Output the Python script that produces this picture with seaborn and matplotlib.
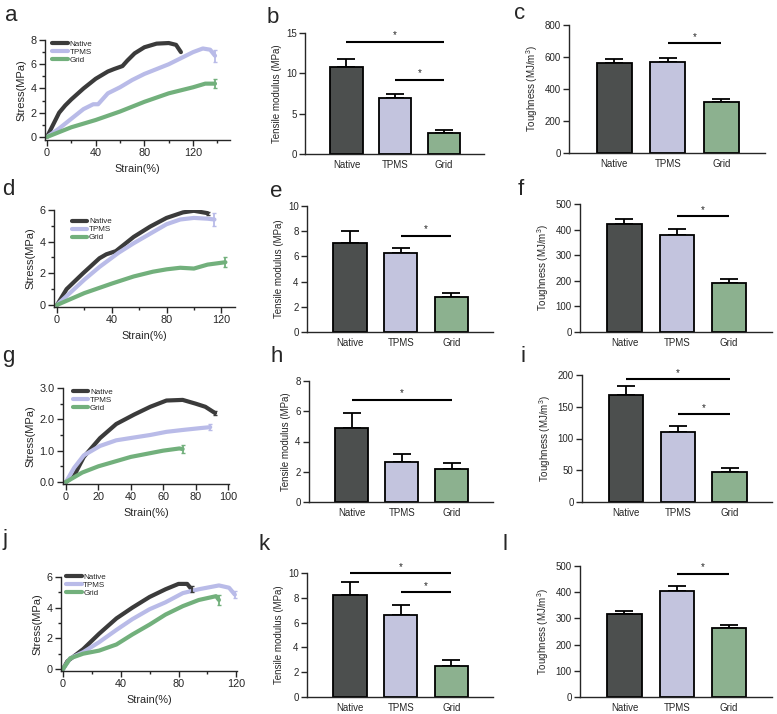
import numpy as np
import pandas as pd
import matplotlib
matplotlib.use("Agg")
import matplotlib.pyplot as plt
from matplotlib.ticker import MultipleLocator, FormatStrFormatter
import seaborn as sns

groups = ["Native", "TPMS", "Grid"]

# stress-strain curves (strain %, stress MPa)
a_native = ([0, 5, 10, 15, 20, 30, 40, 50, 55, 62, 66, 72, 80, 90, 100, 106, 110],
            [0, 1.0, 2.0, 2.6, 3.1, 4.0, 4.8, 5.4, 5.6, 5.85, 6.3, 6.9, 7.4, 7.7, 7.75, 7.6, 7.0])
a_tpms = ([0, 10, 20, 30, 38, 42, 50, 60, 70, 80, 90, 100, 110, 120, 128, 134, 138],
          [0, 0.7, 1.5, 2.3, 2.7, 2.7, 3.6, 4.1, 4.7, 5.2, 5.6, 6.0, 6.5, 7.0, 7.3, 7.2, 6.7])
a_grid = ([0, 20, 40, 60, 80, 100, 120, 130, 138],
          [0, 0.8, 1.4, 2.1, 2.9, 3.6, 4.1, 4.4, 4.4])
a_end_err = [0.0, 0.5, 0.35]

d_native = ([0, 7, 19, 31, 36, 43, 56, 68, 80, 92, 100, 110],
            [0, 1.0, 2.0, 2.95, 3.2, 3.4, 4.3, 4.95, 5.5, 5.85, 5.95, 5.8])
d_tpms = ([0, 10, 20, 31, 45, 56, 70, 80, 90, 100, 110, 115],
          [0, 0.8, 1.6, 2.4, 3.3, 3.9, 4.6, 5.1, 5.4, 5.5, 5.45, 5.4])
d_grid = ([0, 20, 40, 56, 70, 80, 90, 100, 110, 123],
          [0, 0.75, 1.35, 1.8, 2.1, 2.25, 2.35, 2.3, 2.55, 2.7])
d_end_err = [0.1, 0.4, 0.3]

g_native = ([0, 5, 11, 21, 31, 42, 52, 62, 72, 80, 86, 92],
            [0, 0.2, 0.8, 1.4, 1.85, 2.15, 2.4, 2.6, 2.62, 2.5, 2.4, 2.2])
g_tpms = ([0, 5, 11, 21, 31, 42, 52, 62, 72, 83, 89],
          [0, 0.45, 0.85, 1.15, 1.33, 1.42, 1.5, 1.6, 1.66, 1.72, 1.75])
g_grid = ([0, 10, 20, 30, 40, 50, 60, 70, 72],
          [0, 0.3, 0.5, 0.65, 0.8, 0.9, 1.0, 1.07, 1.05])
g_end_err = [0.05, 0.1, 0.12]

j_native = ([0, 3, 14, 25, 37, 48, 60, 71, 80, 86, 89],
            [0, 0.5, 1.3, 2.3, 3.3, 4.0, 4.7, 5.2, 5.55, 5.55, 5.2])
j_tpms = ([0, 5, 14, 25, 37, 48, 60, 71, 83, 94, 108, 115, 119],
          [0, 0.7, 1.1, 1.75, 2.55, 3.25, 3.9, 4.35, 4.95, 5.2, 5.45, 5.3, 4.85])
j_grid = ([0, 5, 14, 25, 37, 48, 60, 71, 83, 94, 106, 108],
          [0, 0.7, 1.0, 1.2, 1.6, 2.25, 2.9, 3.55, 4.1, 4.5, 4.75, 4.5])
j_end_err = [0.2, 0.25, 0.3]

# bar panels: mean and upper error
modulus_b = [10.8, 6.9, 2.6]
modulus_b_err = [1.0, 0.6, 0.4]
toughness_c = [560, 570, 320]
toughness_c_err = [25, 22, 15]
modulus_e = [7.1, 6.25, 2.8]
modulus_e_err = [0.95, 0.4, 0.3]
toughness_f = [420, 380, 193]
toughness_f_err = [22, 22, 15]
modulus_h = [4.9, 2.65, 2.15]
modulus_h_err = [1.0, 0.55, 0.4]
toughness_i = [168, 110, 47]
toughness_i_err = [14, 10, 7]
modulus_k = [8.2, 6.65, 2.5]
modulus_k_err = [1.1, 0.8, 0.45]
toughness_l = [315, 405, 262]
toughness_l_err = [15, 18, 12]

# significance bars: (from group, to group, height)
sig_b = [(0, 2, 13.9), (1, 2, 9.2)]
sig_c = [(1, 2, 686)]
sig_e = [(1, 2, 7.65)]
sig_f = [(1, 2, 453)]
sig_h = [(0, 2, 6.75)]
sig_i = [(0, 2, 193), (1, 2, 138)]
sig_k = [(0, 2, 9.97), (1, 2, 8.44)]
sig_l = [(1, 2, 470)]

line_colors = {"Native": "#3b3b3b", "TPMS": "#b9bbe8", "Grid": "#72b07c"}
bar_colors = {"Native": "#4b4f4e", "TPMS": "#bec0e2", "Grid": "#86b78a"}

sns.set_theme(style="ticks")
plt.rcParams["font.family"] = ["Liberation Sans", "DejaVu Sans"]
plt.rcParams["mathtext.default"] = "regular"
plt.rcParams["axes.linewidth"] = 1.0

W, H = 777, 714
fig = plt.figure(figsize=(W / 100, H / 100), dpi=100)


def box(left, right, top, bottom):
    return [left / W, 1 - bottom / H, (right - left) / W, (bottom - top) / H]


def stress_panel(rect, curves, end_err, xlim, xmaj, xmin, ylim, ymaj, ymin, leg_anchor, yfmt=None):
    ax = fig.add_axes(rect)
    frames = [pd.DataFrame({"Strain": c[0], "Stress": c[1], "Group": g}) for g, c in zip(groups, curves)]
    df = pd.concat(frames, ignore_index=True)
    sns.lineplot(data=df, x="Strain", y="Stress", hue="Group", hue_order=groups,
                 palette=line_colors, estimator=None, linewidth=3.0, ax=ax)
    for g, c, e in zip(groups, curves, end_err):
        if e > 0:
            ax.errorbar(c[0][-1], c[1][-1], yerr=e, color=line_colors[g],
                        capsize=1.5, elinewidth=1.3, capthick=1.0)
    ax.set_xlim(*xlim)
    ax.set_ylim(*ylim)
    ax.xaxis.set_major_locator(MultipleLocator(xmaj))
    ax.yaxis.set_major_locator(MultipleLocator(ymaj))
    if xmin:
        ax.xaxis.set_minor_locator(MultipleLocator(xmin))
    if ymin:
        ax.yaxis.set_minor_locator(MultipleLocator(ymin))
    if yfmt:
        ax.yaxis.set_major_formatter(FormatStrFormatter(yfmt))
    ax.tick_params(which="major", direction="out", length=4, width=1, labelsize=7.8, pad=2)
    ax.tick_params(which="minor", direction="out", length=2.5, width=1)
    ax.set_xlabel("Strain(%)", fontsize=7.8, labelpad=4)
    ax.set_ylabel("Stress(MPa)", fontsize=8, labelpad=3)
    h, lab = ax.get_legend_handles_labels()
    ax.legend(h, lab, loc="upper left", bbox_to_anchor=leg_anchor, frameon=False,
              fontsize=5.8, handlelength=1.9, handletextpad=0.2, labelspacing=0.05,
              borderpad=0, borderaxespad=0)
    sns.despine(ax=ax)
    ax.set_xlim(*xlim)
    ax.set_ylim(*ylim)
    return ax


def bar_panel(rect, vals, errs, sig, ytop, ystep, ylabel):
    ax = fig.add_axes(rect)
    df = pd.DataFrame({"Group": groups, "Value": vals})
    ax.errorbar(range(3), vals, yerr=[[0, 0, 0], errs], fmt="none", ecolor="black",
                elinewidth=1.3, capsize=6.5, capthick=1.3, zorder=1)
    sns.barplot(data=df, x="Group", y="Value", hue="Group", palette=bar_colors,
                width=0.66, edgecolor="black", linewidth=1.3, legend=False, ax=ax, zorder=2)
    for i, j, y in sig:
        ax.plot([i, j], [y, y], color="black", lw=1.5, solid_capstyle="butt", clip_on=False)
        ax.annotate("*", ((i + j) / 2, y), xytext=(0, 1), textcoords="offset points",
                    ha="center", va="bottom", fontsize=7)
    ax.set_xlim(-0.85, 2.82)
    ax.set_ylim(0, ytop)
    ax.yaxis.set_major_locator(MultipleLocator(ystep))
    ax.tick_params(axis="y", direction="out", length=4, width=1, labelsize=7, pad=2)
    ax.tick_params(axis="x", length=0, labelsize=7, pad=4)
    ax.set_xlabel("")
    ax.set_ylabel(ylabel, fontsize=7, labelpad=3)
    sns.despine(ax=ax)
    return ax


mod_label = "Tensile modulus (MPa)"
tough_label = "Toughness (MJ/m$^3$)"

# row 1
stress_panel(box(45, 230, 40, 140), [a_native, a_tpms, a_grid], a_end_err,
             (-1.6, 150.3), 40, 20, (-0.25, 8), 2, 1, (0.04, 1.0))
bar_panel(box(305, 484, 33, 154), modulus_b, modulus_b_err, sig_b, 15, 5, mod_label)
bar_panel(box(569, 765, 25, 153), toughness_c, toughness_c_err, sig_c, 800, 200, tough_label)

# row 2
stress_panel(box(54, 235, 210, 307), [d_native, d_tpms, d_grid], d_end_err,
             (-2.2, 130), 40, 20, (-0.13, 6), 2, 1, (0.1, 0.92))
bar_panel(box(307, 493, 206, 332), modulus_e, modulus_e_err, sig_e, 10, 2, mod_label)
bar_panel(box(580, 772, 204, 332), toughness_f, toughness_f_err, sig_f, 500, 100, tough_label)

# row 3
stress_panel(box(63, 229, 388, 484), [g_native, g_tpms, g_grid], g_end_err,
             (-1.85, 100.6), 20, None, (-0.065, 3), 1, 0.5, (0.06, 1.0), yfmt="%.1f")
bar_panel(box(309, 493, 381, 502), modulus_h, modulus_h_err, sig_h, 8, 2, mod_label)
bar_panel(box(582, 772, 375, 502), toughness_i, toughness_i_err, sig_i, 200, 50, tough_label)

# row 4
stress_panel(box(61, 237, 577, 671), [j_native, j_tpms, j_grid], j_end_err,
             (-1.4, 120.5), 40, 20, (-0.13, 6), 2, 1, (0.03, 1.04))
bar_panel(box(307, 493, 573, 697), modulus_k, modulus_k_err, sig_k, 10, 2, mod_label)
bar_panel(box(580, 772, 566, 697), toughness_l, toughness_l_err, sig_l, 500, 100, tough_label)

# panel letters
letters = ["a", "b", "c", "d", "e", "f", "g", "h", "i", "j", "k", "l"]
letter_px = [(5, 21), (267, 23), (514, 19), (2, 195), (270, 197), (518, 195),
             (2, 362), (270, 362), (520, 362), (3, 545), (258, 550), (502, 550)]
for t, (px, py) in zip(letters, letter_px):
    fig.text(px / W, 1 - py / H, t, fontsize=16, ha="left", va="baseline")

fig.savefig("out.png", dpi=100)
